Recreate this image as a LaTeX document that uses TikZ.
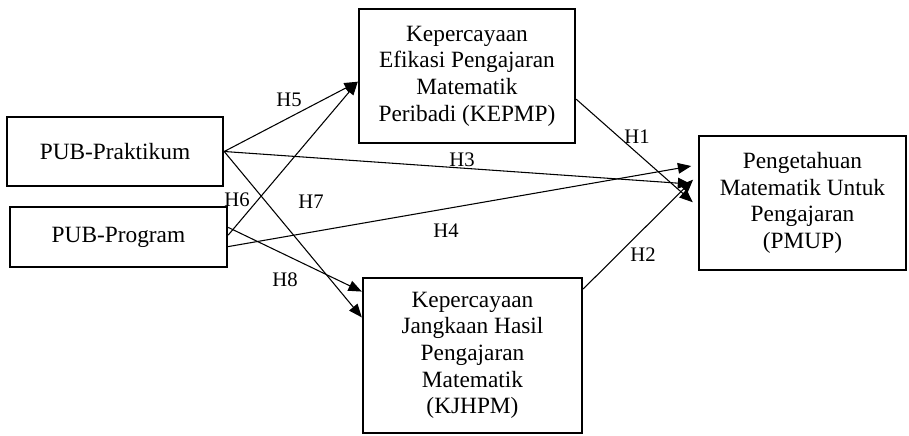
\documentclass[tikz,border=0pt]{standalone}
\usepackage{fontspec}
\setmainfont{Liberation Serif}
\usetikzlibrary{arrows.meta}

\begin{document}
\begin{tikzpicture}[>={Triangle[length=10pt,width=8pt]}, x=0.75pt, y=-0.75pt,
  var/.style={draw, line width=1.8pt, align=center, inner sep=0pt,
    font=\fontsize{17.5}{20}\selectfont},
  path/.style={->, line width=0.8pt},
  hyp/.style={inner sep=0pt, font=\fontsize{15.5}{18}\selectfont}]

\useasboundingbox (0,0) rectangle (909,435);

% Independent variables
\node[var, minimum width=162pt, minimum height=51.75pt] (prak) at (115,151.5) {PUB-Praktikum};
\node[var, minimum width=162.75pt, minimum height=45pt] (prog) at (118.5,237) {PUB-Program};

% Mediators
\node[var, minimum width=162pt, minimum height=100.5pt] (kepmp) at (467,76)
  {Kepercayaan\\Efikasi Pengajaran\\Matematik\\Peribadi (KEPMP)};
\node[var, minimum width=164.25pt, minimum height=116.25pt] (kjhpm) at (472.5,355.5)
  {Kepercayaan\\Jangkaan Hasil\\Pengajaran\\Matematik\\(KJHPM)};

% Dependent variable
\node[var, minimum width=155.25pt, minimum height=100.5pt] (pmup) at (802.5,203)
  {Pengetahuan\\Matematik Untuk\\Pengajaran\\(PMUP)};

% Paths to mediators
\draw[path] (prak.east) -- (kepmp.183);
\draw[path] (prog.1) -- (kepmp.183);
\draw[path] (prak.east) -- (kjhpm.161);
\draw[path] (prog.5) -- (kjhpm.150);

% Paths to PMUP
\draw[path, shorten >=5pt] (prak.east) -- (pmup.170);
\draw[path, shorten >=5pt] (prog.355) -- (pmup.160);
\draw[path, shorten >=5pt] (kepmp.348) -- (pmup.182);
\draw[path, shorten >=5pt] (kjhpm.31) -- (pmup.165);

% Hypothesis labels
\node[hyp] (h1) at (637,137) {H1};
\node[hyp] (h2) at (643,255) {H2};
\node[hyp] (h3) at (462,160) {H3};
\node[hyp] (h4) at (446,231) {H4};
\node[hyp] (h5) at (289,100) {H5};
\node[hyp] (h6) at (237,200) {H6};
\node[hyp] (h7) at (311,202) {H7};
\node[hyp] (h8) at (285,280) {H8};

\end{tikzpicture}
\end{document}
